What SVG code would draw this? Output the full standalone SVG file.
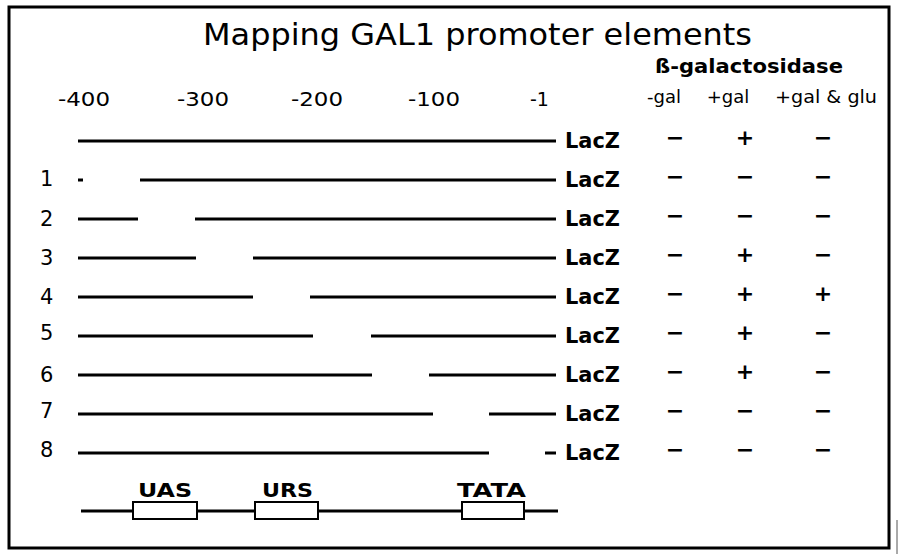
<svg xmlns="http://www.w3.org/2000/svg" width="900" height="554" viewBox="0 0 900 554">
<style>
  text { font-family: "DejaVu Sans", "Liberation Sans", sans-serif; fill: #000; }
  .title { font-size: 31px; }
  .hdr { font-size: 19px; font-weight: bold; }
  .col { font-size: 18px; text-anchor: middle; }
  .axis { font-size: 19px; }
  .num { font-size: 21px; }
  .lacz { font-size: 21px; font-weight: bold; }
  .sign { font-size: 22px; font-weight: bold; text-anchor: middle; }
  .elab { font-size: 19px; font-weight: bold; }
  .seg { stroke: #000; stroke-width: 3; fill: none; }
  .box { stroke: #000; stroke-width: 2; fill: #fff; }
</style>
<rect x="0" y="0" width="900" height="554" fill="#fff"/>
<rect x="9" y="7" width="880" height="541" fill="none" stroke="#000" stroke-width="3"/>
<line x1="897" y1="520" x2="897" y2="554" stroke="#555" stroke-width="1"/>

<g id="title">
  <text class="title" x="203" y="45" textLength="549" lengthAdjust="spacingAndGlyphs">Mapping GAL1 promoter elements</text>
</g>
<g id="header">
  <text class="hdr" x="655" y="73" textLength="188" lengthAdjust="spacingAndGlyphs">ß-galactosidase</text>
  <text class="col" x="664" y="103">-gal</text>
  <text class="col" x="728" y="103">+gal</text>
  <text class="col" x="826" y="103" textLength="102" lengthAdjust="spacingAndGlyphs">+gal &amp; glu</text>
</g>
<g id="axis">
  <text class="axis" x="58" y="106" textLength="52" lengthAdjust="spacingAndGlyphs">-400</text>
  <text class="axis" x="177" y="106" textLength="52" lengthAdjust="spacingAndGlyphs">-300</text>
  <text class="axis" x="291" y="106" textLength="52" lengthAdjust="spacingAndGlyphs">-200</text>
  <text class="axis" x="408" y="106" textLength="52" lengthAdjust="spacingAndGlyphs">-100</text>
  <text class="axis" x="530" y="106">-1</text>
</g>

<g id="constructs">
  <g id="row0">
    <line class="seg" x1="78" y1="141" x2="556" y2="141"/>
    <text class="lacz" x="565" y="148" textLength="55" lengthAdjust="spacingAndGlyphs">LacZ</text>
    <text class="sign" x="675" y="145">−</text><text class="sign" x="745" y="145">+</text><text class="sign" x="823" y="145">−</text>
  </g>
  <g id="row1">
    <text class="num" x="40" y="186">1</text>
    <line class="seg" x1="78" y1="180" x2="83" y2="180"/>
    <line class="seg" x1="140" y1="180" x2="556" y2="180"/>
    <text class="lacz" x="565" y="187" textLength="55" lengthAdjust="spacingAndGlyphs">LacZ</text>
    <text class="sign" x="675" y="184">−</text><text class="sign" x="745" y="184">−</text><text class="sign" x="823" y="184">−</text>
  </g>
  <g id="row2">
    <text class="num" x="40" y="226">2</text>
    <line class="seg" x1="78" y1="219" x2="138" y2="219"/>
    <line class="seg" x1="195" y1="219" x2="556" y2="219"/>
    <text class="lacz" x="565" y="226" textLength="55" lengthAdjust="spacingAndGlyphs">LacZ</text>
    <text class="sign" x="675" y="223">−</text><text class="sign" x="745" y="223">−</text><text class="sign" x="823" y="223">−</text>
  </g>
  <g id="row3">
    <text class="num" x="40" y="265">3</text>
    <line class="seg" x1="78" y1="258" x2="196" y2="258"/>
    <line class="seg" x1="253" y1="258" x2="556" y2="258"/>
    <text class="lacz" x="565" y="265" textLength="55" lengthAdjust="spacingAndGlyphs">LacZ</text>
    <text class="sign" x="675" y="262">−</text><text class="sign" x="745" y="262">+</text><text class="sign" x="823" y="262">−</text>
  </g>
  <g id="row4">
    <text class="num" x="40" y="304">4</text>
    <line class="seg" x1="78" y1="297" x2="253" y2="297"/>
    <line class="seg" x1="310" y1="297" x2="556" y2="297"/>
    <text class="lacz" x="565" y="304" textLength="55" lengthAdjust="spacingAndGlyphs">LacZ</text>
    <text class="sign" x="675" y="301">−</text><text class="sign" x="745" y="301">+</text><text class="sign" x="823" y="301">+</text>
  </g>
  <g id="row5">
    <text class="num" x="40" y="340">5</text>
    <line class="seg" x1="78" y1="336" x2="313" y2="336"/>
    <line class="seg" x1="371" y1="336" x2="556" y2="336"/>
    <text class="lacz" x="565" y="343" textLength="55" lengthAdjust="spacingAndGlyphs">LacZ</text>
    <text class="sign" x="675" y="340">−</text><text class="sign" x="745" y="340">+</text><text class="sign" x="823" y="340">−</text>
  </g>
  <g id="row6">
    <text class="num" x="40" y="382">6</text>
    <line class="seg" x1="78" y1="375" x2="372" y2="375"/>
    <line class="seg" x1="429" y1="375" x2="556" y2="375"/>
    <text class="lacz" x="565" y="382" textLength="55" lengthAdjust="spacingAndGlyphs">LacZ</text>
    <text class="sign" x="675" y="379">−</text><text class="sign" x="745" y="379">+</text><text class="sign" x="823" y="379">−</text>
  </g>
  <g id="row7">
    <text class="num" x="40" y="418">7</text>
    <line class="seg" x1="78" y1="414" x2="433" y2="414"/>
    <line class="seg" x1="489" y1="414" x2="556" y2="414"/>
    <text class="lacz" x="565" y="421" textLength="55" lengthAdjust="spacingAndGlyphs">LacZ</text>
    <text class="sign" x="675" y="418">−</text><text class="sign" x="745" y="418">−</text><text class="sign" x="823" y="418">−</text>
  </g>
  <g id="row8">
    <text class="num" x="40" y="457">8</text>
    <line class="seg" x1="78" y1="453" x2="489" y2="453"/>
    <line class="seg" x1="545" y1="453" x2="556" y2="453"/>
    <text class="lacz" x="565" y="460" textLength="55" lengthAdjust="spacingAndGlyphs">LacZ</text>
    <text class="sign" x="675" y="457">−</text><text class="sign" x="745" y="457">−</text><text class="sign" x="823" y="457">−</text>
  </g>
</g>

<g id="promoter">
  <line class="seg" x1="81" y1="511" x2="558" y2="511"/>
  <g id="UAS">
    <rect class="box" x="133" y="502" width="64" height="17"/>
    <text class="elab" x="138" y="497" textLength="54" lengthAdjust="spacingAndGlyphs">UAS</text>
  </g>
  <g id="URS">
    <rect class="box" x="255" y="502" width="63" height="17"/>
    <text class="elab" x="262" y="497" textLength="51" lengthAdjust="spacingAndGlyphs">URS</text>
  </g>
  <g id="TATA">
    <rect class="box" x="462" y="502" width="62" height="17"/>
    <text class="elab" x="457" y="497" textLength="69" lengthAdjust="spacingAndGlyphs">TATA</text>
  </g>
</g>
</svg>
